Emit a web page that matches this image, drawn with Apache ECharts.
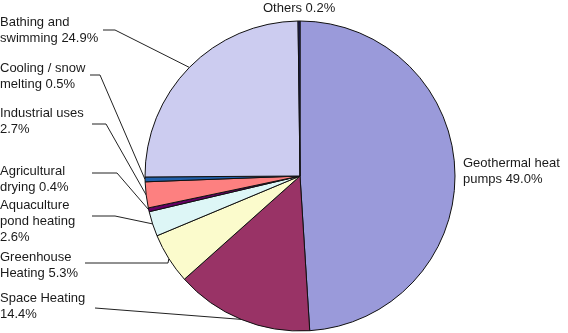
<!DOCTYPE html>
<html>
<head>
<meta charset="utf-8">
<script src="https://cdn.jsdelivr.net/npm/echarts@6/dist/echarts.min.js"></script>
<style>html,body{margin:0;padding:0;background:#fff;}#c{width:568px;height:333px;}</style>
</head>
<body>
<div id="c"></div>
<script>
// Data (clockwise from 12 o'clock)
var categories = [
  'Geothermal heat\npumps',
  'Space Heating\n',
  'Greenhouse\nHeating',
  'Aquaculture\npond heating\n',
  'Agricultural\ndrying',
  'Industrial uses\n',
  'Cooling / snow\nmelting',
  'Bathing and\nswimming',
  'Others'
];
var values = [49.0, 14.4, 5.3, 2.6, 0.4, 2.7, 0.5, 24.9, 0.2];
var colors = ['#9a9ada', '#993366', '#fbfbcc', '#ddf6f6', '#660066', '#fd8080', '#2060aa', '#ccccf0', '#202070'];

// Label placement: [left x, top y, line start x, line bend x, line y]; null line = no leader
var labelPos = [
  [463, 155, null, null, null],
  [0, 290, 95, 95, 308],
  [0, 249, 85, 168, 263],
  [0, 197, 92, 115, 216],
  [0, 163, 92, 117, 173],
  [0, 105, 92, 106, 124],
  [0, 60, 90, 100, 75],
  [0, 14, 103, 115, 30],
  [263, 0, null, null, null]
];

var data = categories.map(function (n, i) {
  return {
    name: n,
    value: values[i],
    itemStyle: { color: colors[i] },
    labelLine: { show: labelPos[i][2] !== null }
  };
});

var chart = echarts.init(document.getElementById('c'), null, { renderer: 'canvas' });
chart.setOption({
  animation: false,
  backgroundColor: '#ffffff',
  series: [{
    type: 'pie',
    center: [300, 176],
    radius: 155,
    startAngle: 90,
    clockwise: true,
    avoidLabelOverlap: false,
    data: data,
    itemStyle: { borderColor: '#111', borderWidth: 1 },
    label: {
      show: true,
      position: 'outside',
      fontFamily: 'Liberation Sans, Arial, sans-serif',
      fontSize: 13,
      lineHeight: 16,
      color: '#1a1a1a',
      align: 'left',
      formatter: function (p) {
        var n = p.name;
        var sep = n.charAt(n.length - 1) === '\n' ? '' : ' ';
        return n + sep + p.value.toFixed(1) + '%';
      }
    },
    labelLine: {
      show: true,
      length: 10,
      length2: 10,
      lineStyle: { color: '#222', width: 1 }
    },
    labelLayout: function (params) {
      var lp = labelPos[params.dataIndex];
      var res = { x: lp[0], y: lp[1], align: 'left', verticalAlign: 'top' };
      if (lp[2] !== null && params.labelLinePoints) {
        var start = params.labelLinePoints[0];
        res.labelLinePoints = [start, [lp[3], lp[4]], [lp[2], lp[4]]];
      }
      return res;
    }
  }]
});
</script>
</body>
</html>
